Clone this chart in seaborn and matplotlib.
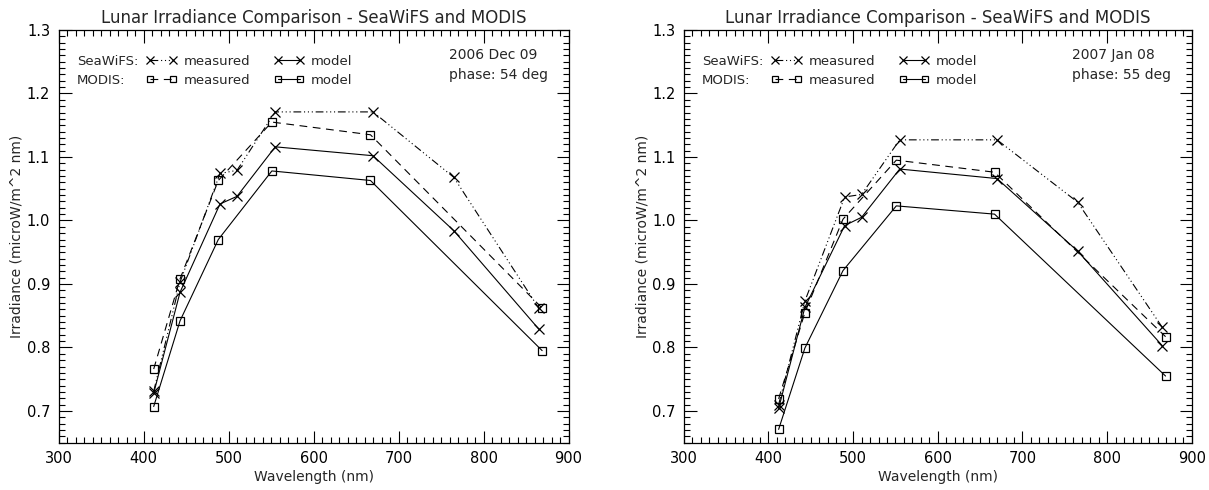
import matplotlib
matplotlib.use("Agg")
import matplotlib.pyplot as plt
from matplotlib.ticker import MultipleLocator
from matplotlib.lines import Line2D
import seaborn as sns
import pandas as pd

# ---------------- data ----------------
seawifs_wl = [412, 443, 490, 510, 555, 670, 765, 865]
modis_wl = [412, 443, 488, 551, 667, 869]

# Panel 1: 2006 Dec 09, phase 54 deg
p1_seawifs_measured = [0.731, 0.903, 1.074, 1.079, 1.171, 1.171, 1.068, 0.862]
p1_seawifs_model = [0.728, 0.887, 1.026, 1.038, 1.116, 1.102, 0.984, 0.829]
p1_modis_measured = [0.766, 0.908, 1.063, 1.155, 1.135, 0.862]
p1_modis_model = [0.707, 0.842, 0.970, 1.078, 1.063, 0.795]

# Panel 2: 2007 Jan 08, phase 55 deg
p2_seawifs_measured = [0.710, 0.873, 1.037, 1.041, 1.127, 1.127, 1.029, 0.832]
p2_seawifs_model = [0.704, 0.863, 0.992, 1.005, 1.081, 1.066, 0.952, 0.803]
p2_modis_measured = [0.719, 0.855, 1.002, 1.095, 1.076, 0.817]
p2_modis_model = [0.671, 0.799, 0.921, 1.023, 1.010, 0.755]

panel_dates = ["2006 Dec 09", "2007 Jan 08"]
panel_phases = ["phase: 54 deg", "phase: 55 deg"]

title = "Lunar Irradiance Comparison - SeaWiFS and MODIS"
xlabel = "Wavelength (nm)"
ylabel = "Irradiance (microW/m^2 nm)"

# ---------------- style ----------------
sns.set_style("ticks")
plt.rcParams["font.family"] = ["DejaVu Sans"]
plt.rcParams["font.size"] = 10

DASHDOT3 = (0, (7, 2.5, 1, 2.5, 1, 2.5, 1, 2.5))
DASHED = (0, (7, 5))
LW = 0.8
LEG_FS = 9.5

fig = plt.figure(figsize=(12.09, 4.90), dpi=100)
ax_pos = [[58.5 / 1209, 1 - 442.7 / 490, 510 / 1209, 412.7 / 490],
          [683.8 / 1209, 1 - 442.7 / 490, 508 / 1209, 412.7 / 490]]

panels = [
    (p1_seawifs_measured, p1_seawifs_model, p1_modis_measured, p1_modis_model),
    (p2_seawifs_measured, p2_seawifs_model, p2_modis_measured, p2_modis_model),
]

for i, (sm, smod, mm, mmod) in enumerate(panels):
    ax = fig.add_axes(ax_pos[i])
    series = [
        (seawifs_wl, sm, "x", DASHDOT3),
        (seawifs_wl, smod, "x", "-"),
        (modis_wl, mm, "s", DASHED),
        (modis_wl, mmod, "s", "-"),
    ]
    for wl, vals, mk, ls in series:
        df = pd.DataFrame({"wl": wl, "val": vals})
        sns.lineplot(data=df, x="wl", y="val", ax=ax, color="black",
                     linewidth=LW, marker=mk, markersize=7 if mk == "x" else 6,
                     markerfacecolor="none", markeredgecolor="black",
                     markeredgewidth=0.9, linestyle=ls, sort=False,
                     estimator=None)
    ax.set_xlim(300, 900)
    ax.set_ylim(0.65, 1.3)
    ax.xaxis.set_major_locator(MultipleLocator(100))
    ax.xaxis.set_minor_locator(MultipleLocator(10))
    ax.yaxis.set_major_locator(MultipleLocator(0.1))
    ax.yaxis.set_minor_locator(MultipleLocator(0.01))
    ax.yaxis.set_major_formatter(plt.FuncFormatter(lambda v, p: f"{v:.1f}" if v >= 0.69 else ""))
    ax.tick_params(which="both", direction="in", top=True, right=True,
                   colors="black", labelsize=10.5, width=0.8)
    ax.tick_params(which="major", length=9, pad=6)
    ax.tick_params(which="minor", length=4.5)
    for s in ax.spines.values():
        s.set_linewidth(0.9)
        s.set_color("black")
    ax.set_xlabel(xlabel, fontsize=10, labelpad=3)
    ax.set_ylabel(ylabel, fontsize=10, labelpad=2)
    ax.set_title(title, fontsize=12, pad=5)

    # legend-like annotation block
    ax.text(0.036, 0.923, "SeaWiFS:", transform=ax.transAxes, va="center", ha="left", fontsize=LEG_FS)
    ax.text(0.036, 0.877, "MODIS:", transform=ax.transAxes, va="center", ha="left", fontsize=LEG_FS)
    h_sm = Line2D([], [], color="black", lw=LW, ls=DASHDOT3, marker="x", ms=6, mew=0.9)
    h_smod = Line2D([], [], color="black", lw=LW, ls="-", marker="x", ms=6, mew=0.9)
    h_mm = Line2D([], [], color="black", lw=LW, ls=DASHED, marker="s", ms=5, mew=0.9, mfc="none")
    h_mmod = Line2D([], [], color="black", lw=LW, ls="-", marker="s", ms=5, mew=0.9, mfc="none")
    ax.legend(handles=[h_sm, h_mm, h_smod, h_mmod],
              labels=["measured", "measured", "model", "model"],
              ncol=2, numpoints=2, frameon=False, handlelength=2.3,
              handletextpad=0.5, columnspacing=1.8, labelspacing=0.45,
              fontsize=LEG_FS, loc="upper left", bbox_to_anchor=(0.162, 0.952),
              borderaxespad=0.0)

    ax.text(0.765, 0.94, panel_dates[i], transform=ax.transAxes, va="center", ha="left", fontsize=10)
    ax.text(0.765, 0.892, panel_phases[i], transform=ax.transAxes, va="center", ha="left", fontsize=10)

fig.savefig("out.png", dpi=100)
